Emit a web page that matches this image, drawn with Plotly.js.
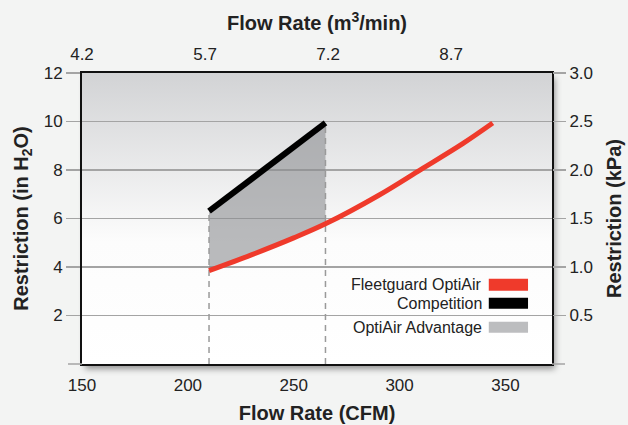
<!DOCTYPE html>
<html>
<head>
<meta charset="utf-8">
<script src="https://cdn.plot.ly/plotly-3.0.1.min.js"></script>
<style>
html,body{margin:0;padding:0;background:#f3f4f3;}
#chart{width:628px;height:425px;}
</style>
</head>
<body>
<div id="chart"></div>
<script>
// ---- data ----
const cfmTicks = [150, 200, 250, 300, 350];
const m3Ticks = [4.2, 5.7, 7.2, 8.7];
const inH2OTicks = [2, 4, 6, 8, 10, 12];
const kpaTicks = [0.5, 1.0, 1.5, 2.0, 2.5, 3.0];

const seriesNames = ['Fleetguard OptiAir', 'Competition', 'OptiAir Advantage'];
const competitionCFM = [210, 265];
const competitionInH2O = [6.3, 9.94];
const optiairCFM = [210, 230, 250, 265, 290, 310, 330, 344];
const optiairInH2O = [3.85, 4.5, 5.2, 5.78, 6.95, 8.02, 9.1, 9.94];

// ---- styles ----
const RED = '#ef3a2b', BLACK = '#000000', GREY = '#bcbdbf';
const GRID = '#a4a4a4', TXT = '#222222', FONT = 'Liberation Sans, Arial, sans-serif';
const PW = 470, PH = 291;   // plot area size in px (for style-only overlays)

// advantage polygon: competition line, then OptiAir curve back (within competition range)
const lo = competitionCFM[0], hi = competitionCFM[competitionCFM.length - 1];
const redIn = optiairCFM.map((x, i) => [x, optiairInH2O[i]]).filter(p => p[0] >= lo && p[0] <= hi).reverse();
const advX = competitionCFM.concat(redIn.map(p => p[0]));
const advY = competitionInH2O.concat(redIn.map(p => p[1]));

const traces = [];
traces.push({x: advX, y: advY, type: 'scatter', mode: 'lines', fill: 'toself',
  fillcolor: 'rgba(140,141,145,0.6)', line: {width: 0}, hoverinfo: 'skip', showlegend: false});
competitionCFM.forEach((cx, i) => {
  traces.push({x: [cx, cx], y: [0, competitionInH2O[i]], type: 'scatter', mode: 'lines',
    line: {color: '#9a9a9a', width: 1.5, dash: '6px,5px'}, hoverinfo: 'skip', showlegend: false});
});
traces.push({x: optiairCFM, y: optiairInH2O, type: 'scatter', mode: 'lines', name: seriesNames[0],
  line: {color: RED, width: 5, shape: 'spline', smoothing: 1}, showlegend: false});
traces.push({x: competitionCFM, y: competitionInH2O, type: 'scatter', mode: 'lines', name: seriesNames[1],
  line: {color: BLACK, width: 6}, showlegend: false});
// secondary axes carrier
traces.push({x: [], y: [], xaxis: 'x2', yaxis: 'y2', type: 'scatter', hoverinfo: 'skip', showlegend: false});

// drop shadow + gradient background for plot area (style only)
const pad = 14;
const shadowSvg = "<svg xmlns='http://www.w3.org/2000/svg' width='" + (PW + 2 * pad) + "' height='" + (PH + 2 * pad) + "'>" +
  "<defs><filter id='b' x='-10%' y='-10%' width='120%' height='120%'><feGaussianBlur stdDeviation='3'/></filter></defs>" +
  "<rect x='" + (pad + 3) + "' y='" + (pad + 5) + "' width='" + PW + "' height='" + PH + "' fill='#000' fill-opacity='0.4' filter='url(#b)'/></svg>";
const gradSvg = "<svg xmlns='http://www.w3.org/2000/svg' width='10' height='100' preserveAspectRatio='none'>" +
  "<defs><linearGradient id='g' x1='0' y1='0' x2='0' y2='1'>" +
  "<stop offset='0' stop-color='#d2d3d5'/><stop offset='0.58' stop-color='#fcfcfc'/><stop offset='1' stop-color='#ffffff'/>" +
  "</linearGradient></defs><rect width='10' height='100' fill='url(#g)'/></svg>";
const uri = s => 'data:image/svg+xml;charset=utf-8,' + encodeURIComponent(s);

const titleFont = {family: FONT, size: 20, color: TXT, weight: 'bold'};
const tickFont = {family: FONT, size: 17, color: TXT};

// legend (text right, swatch on right)
const legColors = [RED, BLACK, GREY];
const legTextY = [0.272, 0.2085, 0.126];
const legSwatch = [[0.2514, 0.2926], [0.1896, 0.2274], [0.1074, 0.1451]];
const annotations = seriesNames.map((n, i) => ({
  text: n, xref: 'paper', yref: 'paper', x: 0.855, y: legTextY[i], xanchor: 'right', yanchor: 'middle',
  showarrow: false, font: {family: FONT, size: 16, color: TXT}
}));
const shapes = seriesNames.map((n, i) => ({
  type: 'rect', xref: 'paper', yref: 'paper', x0: 0.8655, x1: 0.949, y0: legSwatch[i][0], y1: legSwatch[i][1],
  fillcolor: legColors[i], line: {width: 0}
}));
// outer extensions of the baseline gridline (left and right)
shapes.push({type: 'line', xref: 'paper', yref: 'paper', x0: -14 / PW, x1: 0, y0: 0, y1: 0, line: {color: GRID, width: 1.5}});
shapes.push({type: 'line', xref: 'paper', yref: 'paper', x0: 1, x1: 1 + 13 / PW, y0: 0, y1: 0, line: {color: GRID, width: 1.5}});

const layout = {
  width: 628, height: 425,
  margin: {l: 82, r: 76, t: 73, b: 61},
  paper_bgcolor: '#f3f4f3', plot_bgcolor: 'rgba(0,0,0,0)',
  showlegend: false,
  font: {family: FONT, color: TXT},
  images: [
    {source: uri(shadowSvg), xref: 'paper', yref: 'paper', x: -pad / PW, y: 1 + pad / PH,
      sizex: (PW + 2 * pad) / PW, sizey: (PH + 2 * pad) / PH, xanchor: 'left', yanchor: 'top', sizing: 'stretch', layer: 'below'},
    {source: uri(gradSvg), xref: 'paper', yref: 'paper', x: 0, y: 1, sizex: 1, sizey: 1,
      xanchor: 'left', yanchor: 'top', sizing: 'stretch', layer: 'below'}
  ],
  xaxis: {range: [150, 372], tickvals: cfmTicks, ticks: '', showgrid: false, zeroline: false,
    showline: true, mirror: true, linecolor: '#111', linewidth: 2, tickfont: tickFont, ticklabelstandoff: 5,
    title: {text: 'Flow Rate (CFM)', font: titleFont, standoff: 12}, fixedrange: true},
  xaxis2: {overlaying: 'x', side: 'top', anchor: 'y', range: [4.2, 9.93], tickvals: m3Ticks, tickformat: '.1f',
    ticks: '', showgrid: false, zeroline: false, showline: false, tickfont: tickFont, ticklabelstandoff: 9,
    title: {text: 'Flow Rate (m<sup>3</sup>/min)', font: titleFont, standoff: 8}},
  yaxis: {range: [0, 12], tickvals: inH2OTicks, ticks: 'outside', ticklen: 14,
    tickcolor: GRID, tickwidth: 1.5, showgrid: true, gridcolor: GRID, gridwidth: 1.5, zeroline: false,
    showline: true, mirror: true, linecolor: '#111', linewidth: 2, tickfont: tickFont,
    title: {text: 'Restriction (in H<sub>2</sub>O)', font: titleFont, standoff: 10}},
  yaxis2: {overlaying: 'y', side: 'right', anchor: 'x', range: [0, 3], tickvals: kpaTicks, tickformat: '.1f',
    ticks: 'outside', ticklen: 13, tickcolor: GRID, tickwidth: 1.5, showgrid: false, zeroline: false,
    showline: false, tickfont: tickFont,
    title: {text: 'Restriction (kPa)', font: titleFont, standoff: 14}},
  annotations: annotations,
  shapes: shapes
};

Plotly.newPlot('chart', traces, layout, {staticPlot: true, displayModeBar: false});
</script>
</body>
</html>
